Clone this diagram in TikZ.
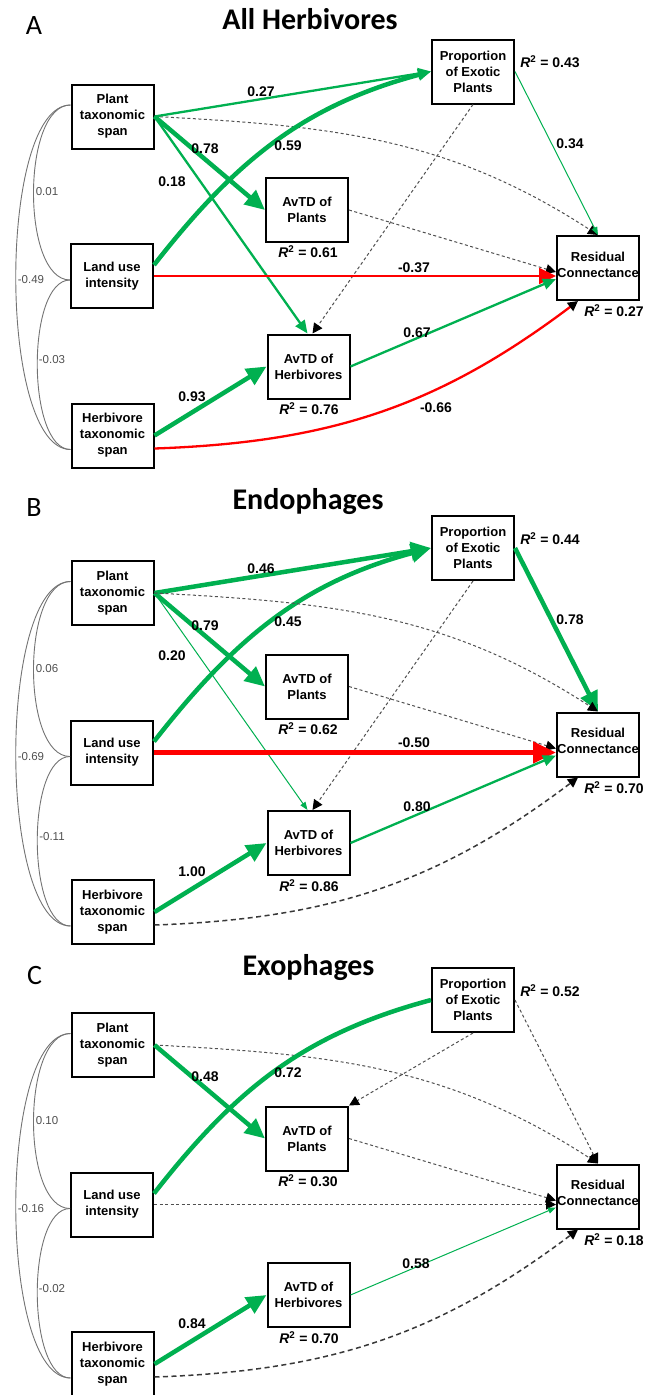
\documentclass[tikz,border=0pt]{standalone}
\usepackage{fontspec}
\setmainfont{Liberation Sans}
\newfontfamily\calfont{Carlito}
\usetikzlibrary{arrows.meta}
\definecolor{eg}{RGB}{0,176,80}
\definecolor{er}{RGB}{255,0,0}
\definecolor{dg}{RGB}{80,80,80}
\definecolor{cg}{RGB}{115,115,115}
\newcommand\myR[1]{{\itshape R}\textsuperscript{2} = #1}
\tikzset{
 vbox/.style={draw, line width=2pt, minimum width=82pt, minimum height=64pt, inner sep=0pt, align=center, font=\fontsize{13}{16}\selectfont\bfseries},
 coef/.style={font=\fontsize{14}{16}\selectfont\bfseries, inner sep=0pt},
 clab/.style={font=\fontsize{11.5}{13}\selectfont, text=dg, inner sep=0pt},
 corr/.style={draw=cg, line width=0.9pt},
 hdS/.style={-{Triangle[length=8pt,width=6pt]}},
 hdM/.style={-{Triangle[length=13pt,width=11pt]}},
 hdL/.style={-{Triangle[length=20pt,width=18pt]}},
 hdR/.style={-{Triangle[length=17pt,width=16pt]}},
 hdK/.style={-{Triangle[length=10pt,width=10pt,color=black]}},
 gthin/.style={draw=eg, line width=1pt},
 gmed/.style={draw=eg, line width=2.3pt},
 gthick/.style={draw=eg, line width=4.5pt},
 rmed/.style={draw=er, line width=2.3pt},
 rthick/.style={draw=er, line width=4.5pt},
 dsh/.style={draw=dg, line width=1pt, dash pattern=on 3pt off 2.5pt},
 dshk/.style={draw=dg!70!black, line width=1.5pt, dash pattern=on 5pt off 3.5pt},
 ttl/.style={font=\calfont\bfseries\fontsize{30}{34}\selectfont, anchor=base, inner sep=0pt},
 plab/.style={font=\calfont\fontsize{28}{32}\selectfont, anchor=base, inner sep=0pt}
}
% #1 prefix, #2-#5 R2 values, #6-#8 correlations
\newcommand\panelboxes[8]{%
 \node[vbox] (#1plant) at (112.5,-116.5) {Plant\\taxonomic\\span};
 \node[vbox] (#1land) at (112,-276) {Land use\\intensity};
 \node[vbox] (#1herb) at (112.5,-435.5) {Herbivore\\taxonomic\\span};
 \node[vbox] (#1avp) at (307,-210) {AvTD of\\Plants};
 \node[vbox] (#1avh) at (308.5,-366.5) {AvTD of\\Herbivores};
 \node[vbox] (#1prop) at (473,-71.5) {Proportion\\of Exotic\\Plants};
 \node[vbox] (#1res) at (598,-268) {Residual\\Connectance\\[-9pt]{}};
 \node[coef] (#1propR) at (550,-62) {\myR{#2}};
 \node[coef] (#1avpR) at (308,-252) {\myR{#3}};
 \node[coef] (#1avhR) at (309,-409) {\myR{#4}};
 \node[coef] (#1resR) at (614,-311) {\myR{#5}};
 \draw[corr] ([yshift=11.5pt]#1plant.west) .. controls +(-49,0) and +(-49,0) .. ([yshift=-4pt]#1land.west);
 \draw[corr] ([yshift=11.5pt]#1plant.west) .. controls +(-73,0) and +(-73,0) .. ([yshift=-14pt]#1herb.west);
 \draw[corr] ([yshift=-4pt]#1land.west) .. controls +(-44,0) and +(-44,0) .. ([yshift=-14pt]#1herb.west);
 \node[clab] (#1c1) at (47,-192) {#6};
 \node[clab] (#1c2) at (31,-280) {#7};
 \node[clab] (#1c3) at (52,-360) {#8};
}
\begin{document}
\begin{tikzpicture}[x=1pt,y=1pt]
\useasboundingbox (0,0) rectangle (647,-1395);
% titles
\node[plab] (labA) at (34,-34) {A};
\node[ttl] (ttlA) at (310,-29.5) {All Herbivores};
\node[plab] (labB) at (34,-516) {B};
\node[ttl] (ttlB) at (308,-509) {Endophages};
\node[plab] (labC) at (34.5,-984) {C};
\node[ttl] (ttlC) at (308.5,-975) {Exophages};
% ---------------- Panel A
\begin{scope}
 \panelboxes{a}{0.43}{0.61}{0.76}{0.27}{0.01}{-0.49}{-0.03}
 \draw[dsh,hdK] (aplant.east) to[out=-3,in=147] (ares.north);
 \draw[dsh,hdK] (aprop.south) -- ([xshift=4pt]aavh.north);
 \draw[dsh,hdK] (aavp.east) -- ([yshift=-4pt]ares.west);
 \draw[gmed,hdM] (aplant.east) -- (aprop.west);
 \draw[gthick,hdM] ([yshift=11pt]aland.east) to[out=52,in=195] (aprop.west);
 \draw[gthick,hdL] (aplant.east) -- (aavp.west);
 \draw[gmed,hdM] (aplant.east) -- ([xshift=-1pt]aavh.north);
 \draw[gthin,hdS] (aprop.east) -- (ares.north);
 \draw[rmed,hdR] (aland.east) -- (aland.east -| ares.west);
 \draw[gmed,hdM] (aavh.east) -- ([yshift=-11pt]ares.west);
 \draw[gthick,hdL] (aherb.east) -- (aavh.west);
 \draw[rmed,hdK] ([yshift=-13pt]aherb.east) to[out=2,in=217] ([xshift=-20pt]ares.south);
 \node[coef] (aL1) at (261,-92) {0.27};
 \node[coef] (aL2) at (288,-146) {0.59};
 \node[coef] (aL3) at (205,-149) {0.78};
 \node[coef] (aL4) at (172,-182) {0.18};
 \node[coef] (aL5) at (570,-144) {0.34};
 \node[coef] (aL6) at (414,-268) {-0.37};
 \node[coef] (aL7) at (417,-333) {0.67};
 \node[coef] (aL8) at (192,-397) {0.93};
 \node[coef] (aL9) at (436,-408) {-0.66};
\end{scope}
% ---------------- Panel B
\begin{scope}[yshift=-476.5pt]
 \panelboxes{b}{0.44}{0.62}{0.86}{0.70}{0.06}{-0.69}{-0.11}
 \draw[dsh,hdK] (bprop.south) -- ([xshift=4pt]bavh.north);
 \draw[dsh,hdK] (bavp.east) -- ([yshift=-4pt]bres.west);
 \draw[gthick,hdL] (bplant.east) -- (bprop.west);
 \draw[gthick,hdL] ([yshift=11pt]bland.east) to[out=52,in=195] (bprop.west);
 \draw[gthick,hdL] (bplant.east) -- (bavp.west);
 \draw[gthin,hdS] (bplant.east) -- ([xshift=-1pt]bavh.north);
 \draw[gthick,hdL] (bprop.east) -- (bres.north);
 \draw[dsh,hdK] (bplant.east) to[out=-3,in=147] (bres.north);
 \draw[rthick,-{Triangle[length=23pt,width=21pt]}] (bland.east) -- (bland.east -| bres.west);
 \draw[gmed,hdM] (bavh.east) -- ([yshift=-11pt]bres.west);
 \draw[gthick,hdL] (bherb.east) -- (bavh.west);
 \draw[dshk,hdK] ([yshift=-13pt]bherb.east) to[out=2,in=217] ([xshift=-20pt]bres.south);
 \node[coef] (bL1) at (261,-92) {0.46};
 \node[coef] (bL2) at (288,-145.5) {0.45};
 \node[coef] (bL3) at (205,-149.5) {0.79};
 \node[coef] (bL4) at (172,-179.5) {0.20};
 \node[coef] (bL5) at (570,-143.5) {0.78};
 \node[coef] (bL6) at (414,-266.5) {-0.50};
 \node[coef] (bL7) at (417,-330.5) {0.80};
 \node[coef] (bL8) at (192,-395.5) {1.00};
\end{scope}
% ---------------- Panel C
\begin{scope}[yshift=-928.5pt]
 \panelboxes{c}{0.52}{0.30}{0.70}{0.18}{0.10}{-0.16}{-0.02}
 \draw[dsh,hdK] (cplant.east) to[out=-3,in=147] (cres.north);
 \draw[dsh,hdK] (cprop.south) -- (cavp.north east);
 \draw[dsh,hdK] (cprop.east) -- (cres.north);
 \draw[dsh,hdK] (cavp.east) -- ([yshift=-4pt]cres.west);
 \draw[dsh,hdK] (cland.east) -- (cland.east -| cres.west);
 \draw[gthick,hdL] (cplant.east) -- (cavp.west);
 \draw[gthick] ([yshift=11pt]cland.east) to[out=52,in=195] (cprop.west);
 \draw[gthin,hdS] (cavh.east) -- ([yshift=-11pt]cres.west);
 \draw[gthick,hdL] (cherb.east) -- (cavh.west);
 \draw[dshk,hdK] ([yshift=-13pt]cherb.east) to[out=2,in=217] ([xshift=-20pt]cres.south);
 \node[coef] (cL1) at (205,-148.5) {0.48};
 \node[coef] (cL2) at (288,-144.5) {0.72};
 \node[coef] (cL3) at (416,-335.5) {0.58};
 \node[coef] (cL4) at (192,-395) {0.84};
\end{scope}
\end{tikzpicture}
\end{document}
